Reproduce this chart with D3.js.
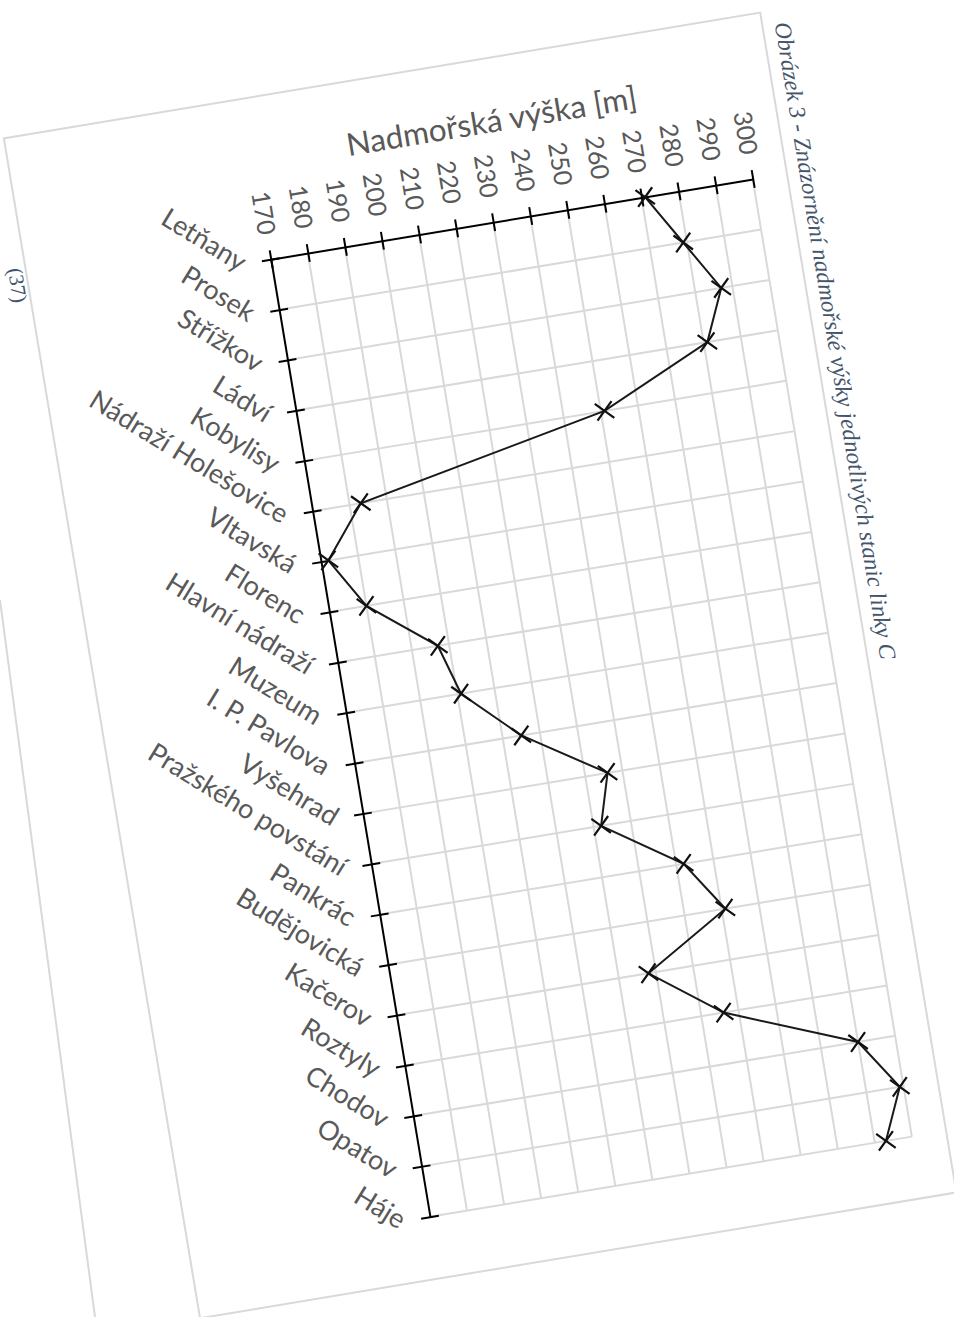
<!DOCTYPE html>
<html>
<head>
<meta charset="utf-8">
<script src="https://cdn.jsdelivr.net/npm/d3@7"></script>
<style>
  html, body { margin: 0; padding: 0; background: #fff; }
  svg { display: block; }
</style>
</head>
<body>
<svg id="chart" width="954" height="1317"></svg>
<script>
// Metro line C stations, north to south
const stations = [
  "Letňany", "Prosek", "Střížkov", "Ládví", "Kobylisy", "Nádraží Holešovice",
  "Vltavská", "Florenc", "Hlavní nádraží", "Muzeum", "I. P. Pavlova", "Vyšehrad",
  "Pražského povstání", "Pankrác", "Budějovická", "Kačerov", "Roztyly", "Chodov",
  "Opatov", "Háje"
];
// Elevation of each station [m]
const elevations = [
  271, 279, 287, 281, 251, 183,
  172, 180, 197, 201, 215, 236,
  232, 252, 261, 238, 256, 290,
  299, 293
];
const valueTicks = [170, 180, 190, 200, 210, 220, 230, 240, 250, 260, 270, 280, 290, 300];
const axisTitle = "Nadmořská výška [m]";
const captionText = "Obrázek 3 - Znázornění nadmořské výšky jednotlivých stanic linky C";
const footerText = "(37)";

const svg = d3.select("#chart");

// The whole sheet sits slightly rotated on the page
const angle = -9.44;
const sheet = svg.append("g")
  .attr("transform", `translate(270.7,259.3) rotate(${angle})`);

const plotW = 488.6, plotH = 970.6;
const x = d3.scaleLinear().domain([170, 300]).range([0, plotW]);
const y = d3.scalePoint().domain(stations).range([0, plotH]);

const gridColor = "#d9d9d9";
const textColor = "#595959";
const labelFont = "Lato, 'Open Sans', sans-serif";

// edge of the neighbouring sheet
svg.append("line")
  .attr("x1", 0).attr("y1", 600).attr("x2", 95).attr("y2", 1317)
  .attr("stroke", gridColor).attr("stroke-width", 2);

// chart border
sheet.append("rect")
  .attr("x", -243.4).attr("y", -163)
  .attr("width", 766.7).attr("height", 1196)
  .attr("fill", "none").attr("stroke", gridColor).attr("stroke-width", 2);

// gridlines
sheet.append("g").selectAll("line").data(valueTicks.slice(1)).join("line")
  .attr("x1", d => x(d)).attr("x2", d => x(d))
  .attr("y1", 0).attr("y2", plotH)
  .attr("stroke", gridColor).attr("stroke-width", 2);
sheet.append("g").selectAll("line").data(stations.slice(1)).join("line")
  .attr("x1", 0).attr("x2", plotW)
  .attr("y1", d => y(d)).attr("y2", d => y(d))
  .attr("stroke", gridColor).attr("stroke-width", 2);

// value axis along the top, crossing tick marks
const xAxis = sheet.append("g")
  .call(d3.axisTop(x).tickValues(valueTicks).tickSizeInner(9).tickSizeOuter(0).tickFormat(d3.format("d")));
xAxis.select(".domain").attr("stroke", "#000").attr("stroke-width", 2);
xAxis.selectAll(".tick line").attr("y1", 9).attr("stroke", "#000").attr("stroke-width", 2);
xAxis.selectAll(".tick text")
  .attr("x", 0).attr("y", 0).attr("dy", "0.35em")
  .attr("transform", "translate(0,-25) rotate(90)")
  .style("text-anchor", "end")
  .attr("fill", textColor)
  .style("font-family", labelFont).style("font-size", "25px");

// axis title
sheet.append("text")
  .attr("x", x(234)).attr("y", -89)
  .attr("text-anchor", "middle")
  .attr("fill", textColor)
  .style("font-family", labelFont).style("font-size", "31.5px")
  .text(axisTitle);

// category axis on the left
const yAxis = sheet.append("g")
  .call(d3.axisLeft(y).tickSizeInner(9).tickSizeOuter(0));
yAxis.select(".domain").attr("stroke", "#000").attr("stroke-width", 2);
yAxis.selectAll(".tick line").attr("x1", 9).attr("stroke", "#000").attr("stroke-width", 2);
yAxis.selectAll(".tick text")
  .attr("x", 0).attr("y", 0).attr("dy", "0.35em")
  .attr("transform", "translate(-27,0) rotate(41)")
  .style("text-anchor", "end")
  .attr("fill", textColor)
  .style("font-family", labelFont).style("font-size", "27px");

// elevation profile
const points = stations.map((s, i) => ({ s, v: elevations[i] }));
sheet.append("path")
  .datum(points)
  .attr("fill", "none").attr("stroke", "#1a1a1a").attr("stroke-width", 2)
  .attr("d", d3.line().x(d => x(d.v)).y(d => y(d.s)));

sheet.append("g").selectAll("path").data(points).join("path")
  .attr("transform", d => `translate(${x(d.v)},${y(d.s)})`)
  .attr("d", "M-8.5,-8.5L8.5,8.5M-8.5,8.5L8.5,-8.5")
  .attr("stroke", "#111").attr("stroke-width", 2.2).attr("fill", "none");

// figure caption, running down the right side
sheet.append("text")
  .attr("transform", "translate(544,-150) rotate(90)")
  .attr("dy", "0.35em")
  .attr("fill", "#44546a")
  .style("font-family", "'Liberation Serif', 'Times New Roman', serif")
  .style("font-style", "italic").style("font-size", "23.5px")
  .text(captionText);

// page number near the left edge
svg.append("text")
  .attr("transform", "translate(15,268) rotate(80.56)")
  .attr("dy", "0.35em")
  .attr("fill", "#44546a")
  .style("font-family", "'Liberation Serif', 'Times New Roman', serif")
  .style("font-size", "21px")
  .text(footerText);
</script>
</body>
</html>
